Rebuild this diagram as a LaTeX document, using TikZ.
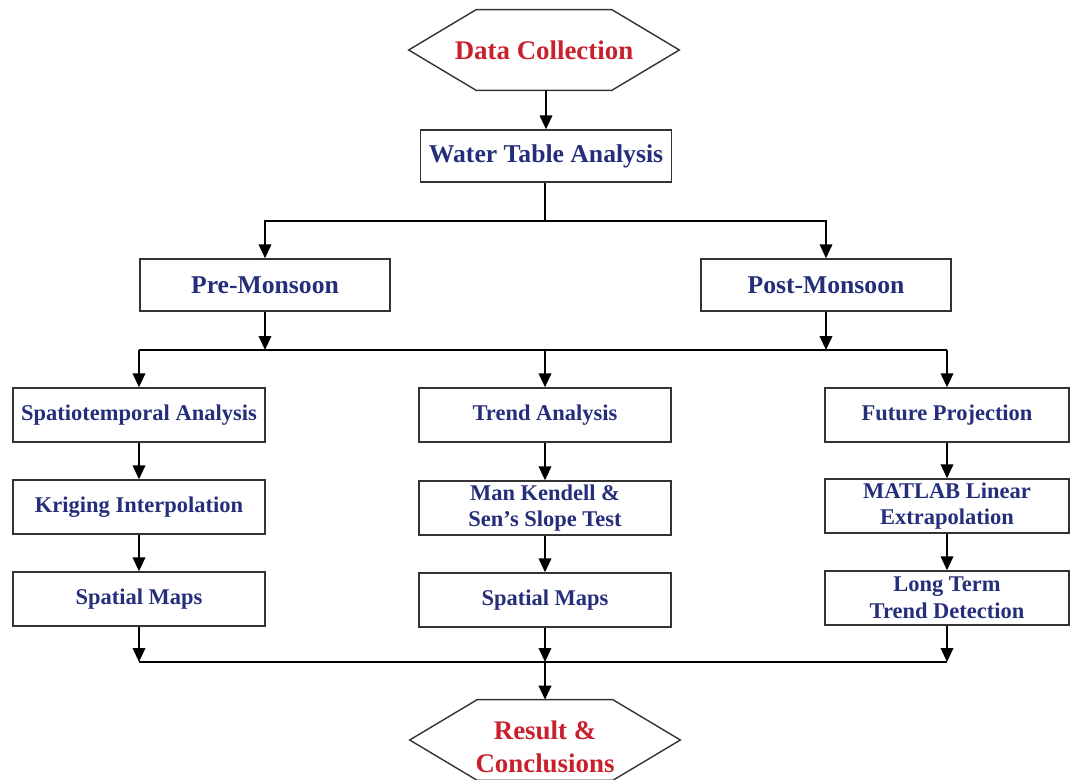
\documentclass[tikz,border=0pt]{standalone}
\usepackage{fontspec}
\setmainfont{Liberation Serif}
\usetikzlibrary{arrows.meta}

\definecolor{headred}{RGB}{200,32,44}
\definecolor{boxblue}{RGB}{36,46,122}

\newcommand\hexframe[1]{%
  \draw[frame] (#1.west) -- ([xshift=1.35cm]#1.north west)
    -- ([xshift=-1.35cm]#1.north east) -- (#1.east)
    -- ([xshift=-1.35cm]#1.south east) -- ([xshift=1.35cm]#1.south west) -- cycle;}
\newcommand\lowered[1]{\raisebox{-0.14cm}[\height][\depth]{#1}}

\tikzset{
  frame/.style={draw=black!80, line width=0.8pt},
  box/.style={frame, minimum width=5.04cm,
    minimum height=1.08cm, inner sep=1pt, align=center, text=boxblue,
    font=\bfseries\fontsize{12.8}{15.2}\selectfont},
  season/.style={box, minimum width=5cm, minimum height=1.04cm,
    font=\bfseries\fontsize{14.6}{17}\selectfont},
  hexa/.style={minimum width=5.4cm, minimum height=1.6cm,
    inner sep=1pt, align=center, text=headred,
    font=\bfseries\fontsize{15.3}{18.8}\selectfont},
  flow/.style={line width=1.2pt, -{Triangle[length=0.28cm,width=0.25cm]}},
  bus/.style={line width=1.2pt}
}

\begin{document}
\begin{tikzpicture}[x=0.02cm, y=-0.02cm]
\useasboundingbox (0,0) rectangle (1071,780);

\node[hexa] (data) at (544,50) {Data Collection};
\hexframe{data}
\node[season, minimum width=5.02cm] (table) at (546,156) {Water Table Analysis};
\node[season] (pre) at (265,285) {Pre-Monsoon};
\node[season] (post) at (826,285) {Post-Monsoon};

\node[box] (spatio) at (139,415) {Spatiotemporal Analysis};
\node[box] (krig) at (139,507) {Kriging Interpolation};
\node[box] (mapsA) at (139,599) {Spatial Maps};

\node[box] (trend) at (545,415) {Trend Analysis};
\node[box] (mk) at (545,508) {Man Kendell \&\\Sen’s Slope Test};
\node[box] (mapsB) at (545,600) {Spatial Maps};

\node[box, minimum width=4.88cm] (future) at (947,415) {Future Projection};
\node[box, minimum width=4.88cm] (matlab) at (947,506) {MATLAB Linear\\Extrapolation};
\node[box, minimum width=4.88cm] (longterm) at (947,598) {Long Term\\Trend Detection};

\node[hexa] (result) at (545,740) {\lowered{Result \&}\\\lowered{Conclusions}};
\hexframe{result}

\coordinate (split) at (545,221);
\coordinate (joinL) at (139,350);
\coordinate (joinR) at (947,350);
\coordinate (endL) at (139,662);
\coordinate (endR) at (947,662);

\draw[flow] (data.south -| table) -- (table.north);
\draw[bus] (table.south -| split) -- (split);
\draw[flow] (split) -| (pre.north);
\draw[flow] (split) -| (post.north);

\draw[bus] (joinL) -- (joinR);
\draw[flow] (pre.south) -- (pre.south |- joinL);
\draw[flow] (post.south) -- (post.south |- joinL);
\draw[flow] (joinL) -- (spatio.north);
\draw[flow] (trend.north |- joinL) -- (trend.north);
\draw[flow] (joinR) -- (future.north);

\draw[flow] (spatio) -- (krig);
\draw[flow] (krig) -- (mapsA);
\draw[flow] (trend) -- (mk);
\draw[flow] (mk) -- (mapsB);
\draw[flow] (future) -- (matlab);
\draw[flow] (matlab) -- (longterm);

\draw[bus] (endL) -- (endR);
\draw[flow] (mapsA) -- (endL);
\draw[flow] (mapsB) -- (mapsB.south |- endL);
\draw[flow] (longterm) -- (endR);
\draw[flow] (mapsB.south |- endL) -- (result.north);
\end{tikzpicture}
\end{document}
